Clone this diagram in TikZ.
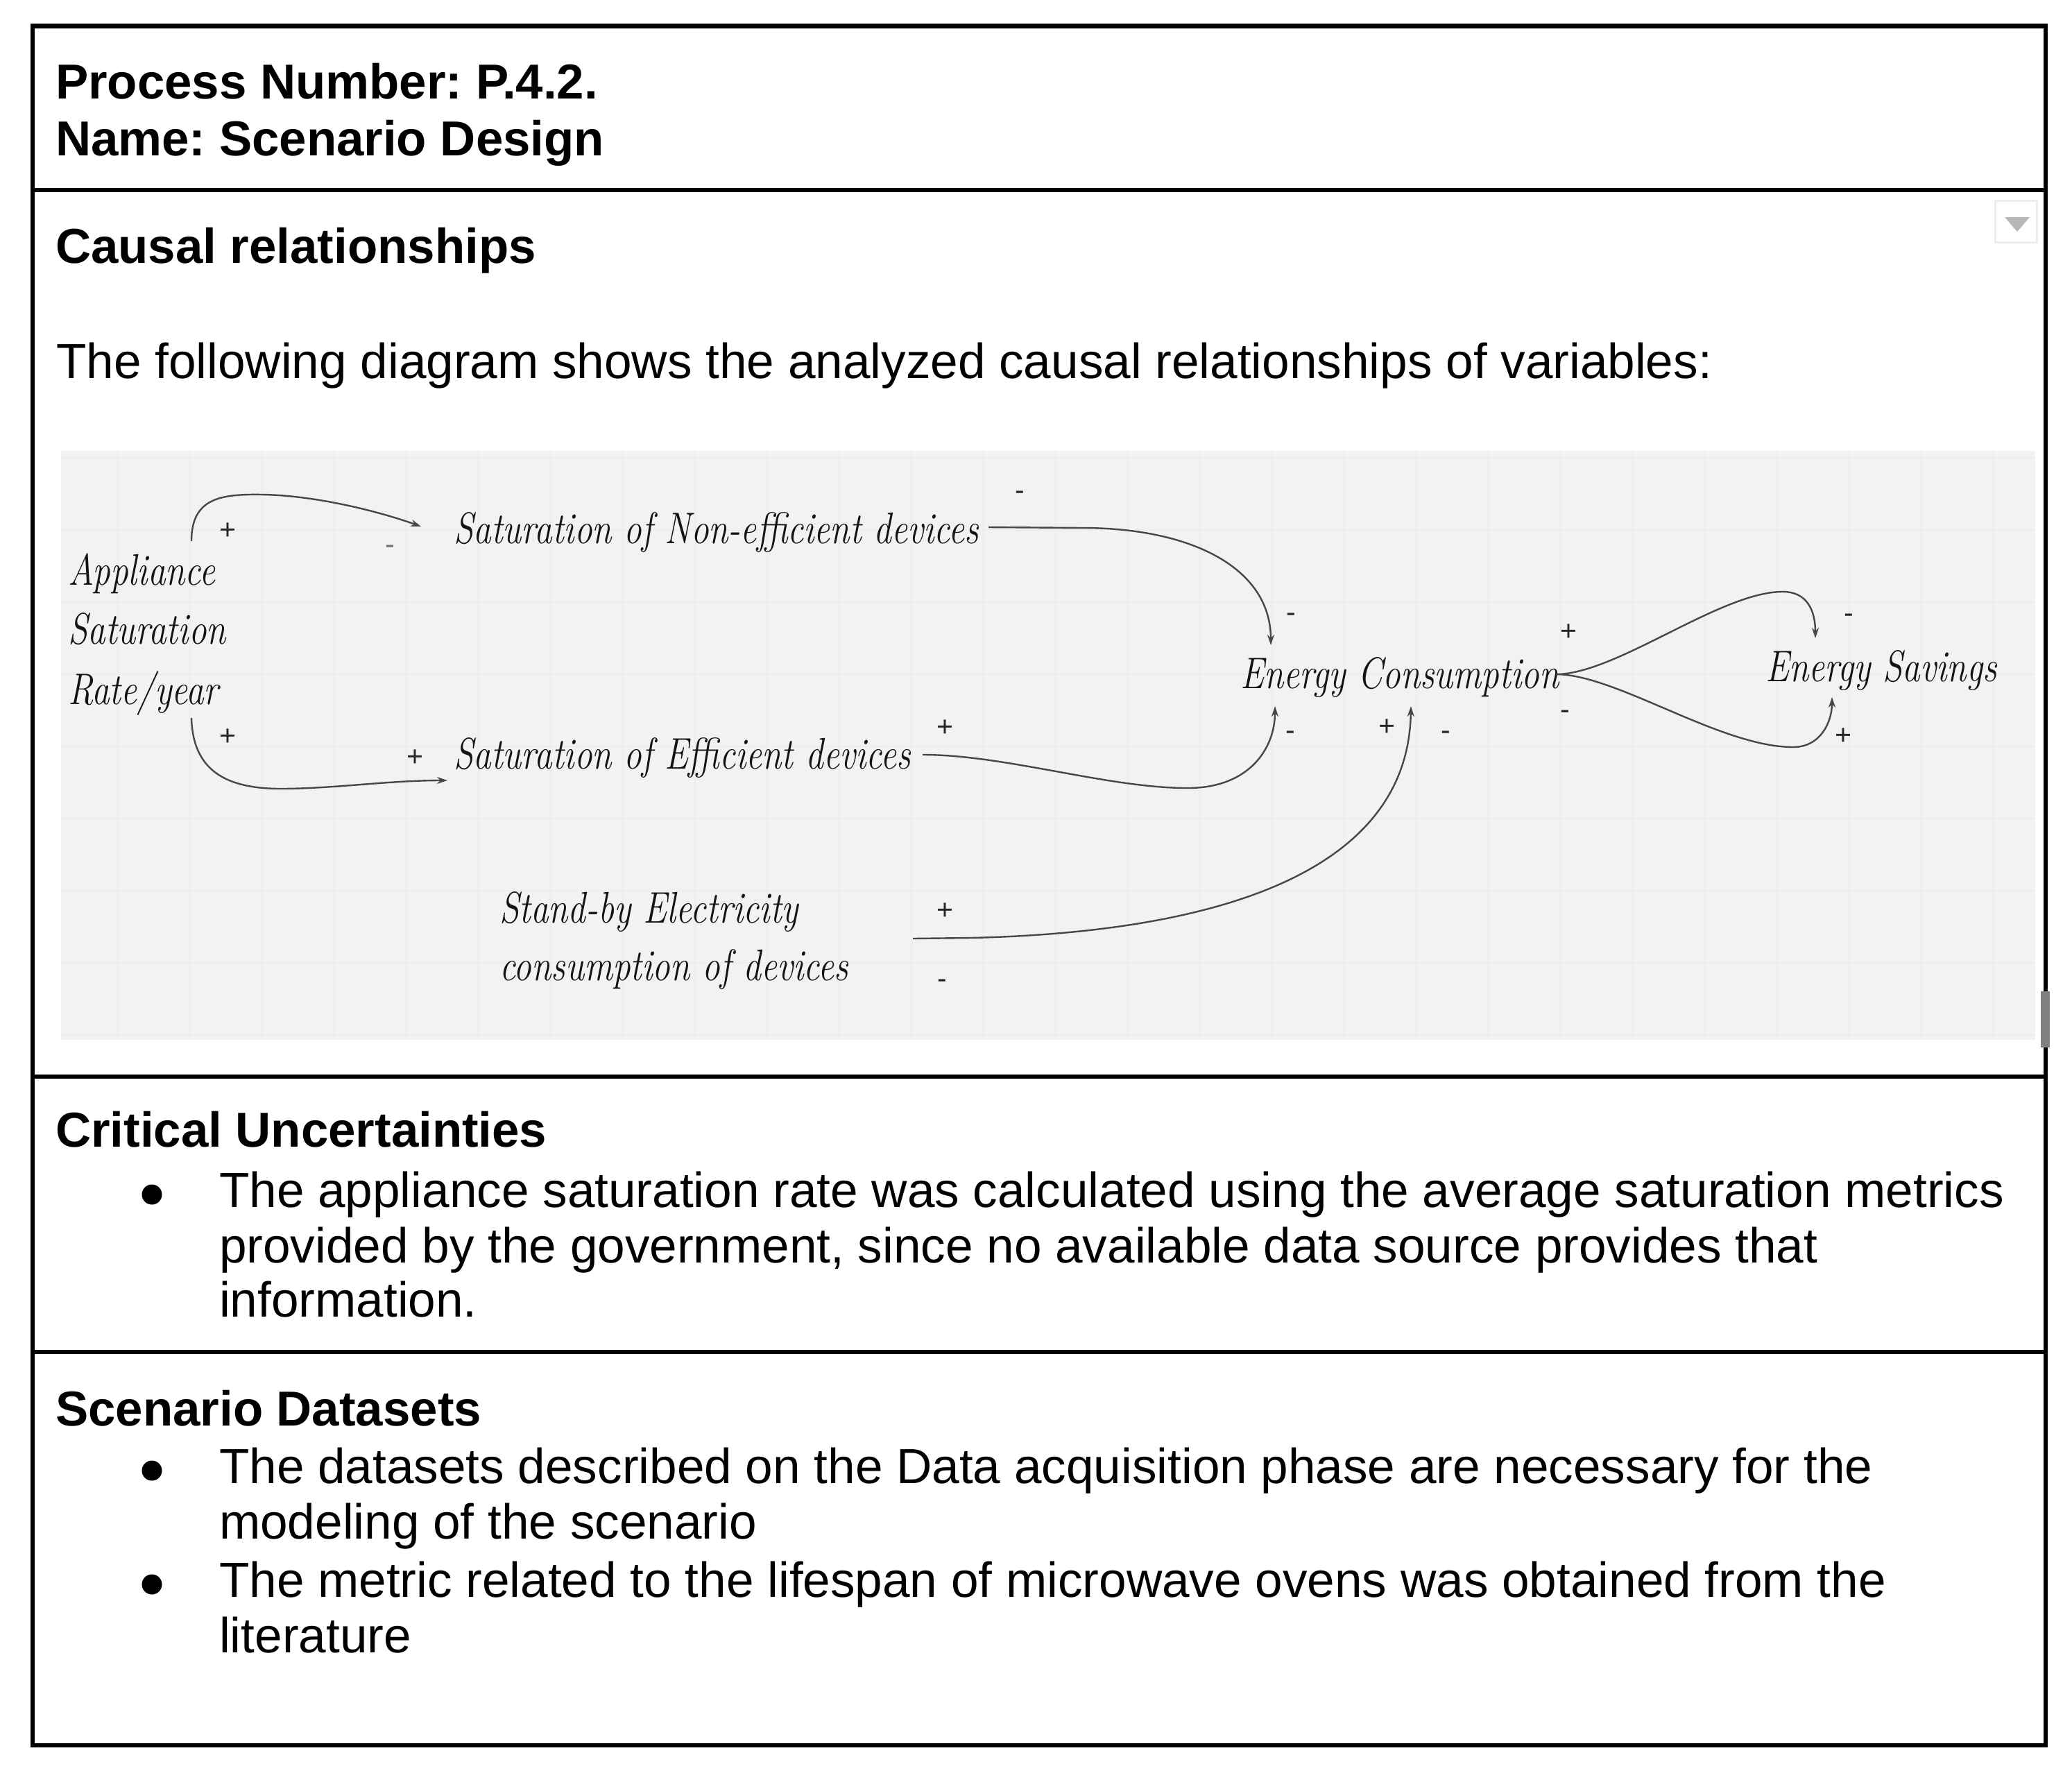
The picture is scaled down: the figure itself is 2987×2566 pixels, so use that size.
\documentclass[tikz,border=0pt]{standalone}
\usepackage{fontspec}
\usepackage{graphicx}
\setsansfont{Liberation Sans}
\usetikzlibrary{arrows.meta}
\newcommand{\hw}[1]{\scalebox{0.9}[1.12]{#1}}
\frenchspacing
\begin{document}
\begin{tikzpicture}[x=1pt,y=-1pt,
  body/.style={font=\sffamily\fontsize{71.1}{85}\selectfont, inner sep=0pt, anchor=base west},
  head/.style={font=\sffamily\bfseries\fontsize{70.8}{85}\selectfont, inner sep=0pt, anchor=base west},
  hand/.style={font=\rmfamily\itshape\fontsize{57}{60}\selectfont, inner sep=0pt, anchor=base west, text=black!92},
  sign/.style={font=\sffamily\fontsize{41}{44}\selectfont, inner sep=0pt, text=black!85},
  conn/.style={draw=black!72, line width=2.4pt, -{Stealth[length=15pt,width=10pt]}},
  gridline/.style={draw=black!7, line width=1.5pt},
  frame/.style={draw=black, line width=6.5pt},
  bullet/.style={circle, fill=black, inner sep=0pt, minimum size=29pt}
]
\useasboundingbox (0,0) rectangle (2987,2566);
\fill[white] (0,0) rectangle (2987,2566);

% ---------- diagram panel ----------
\fill[black!5] (88,650) rectangle (2934,1499);
\foreach \x in {170,274,...,2934} \draw[gridline] (\x,650) -- (\x,1499);
\foreach \y in {660,764,...,1499} \draw[gridline] (88,\y) -- (2934,\y);

% ---------- frame ----------
\draw[frame] (47,37.5) rectangle (2949,2516);
\draw[frame] (47,274) -- (2949,274);
\draw[frame] (47,1552) -- (2949,1552);
\draw[frame] (47,1949) -- (2949,1949);
\fill[black!50] (2942,1429) rectangle (2955,1510);

% dropdown icon
\draw[draw=black!7, fill=white, line width=3pt] (2876,289) rectangle (2936,349);
\fill[black!28] (2890,313) -- (2926,313) -- (2908,334) -- cycle;

% ---------- texts ----------
\node[head] (pn) at (80,143) {Process Number: P.4.2.};
\node[head] (nm) at (80,225) {Name: Scenario Design};
\node[head] (cr) at (80,379) {Causal relationships};
\node[body] (intro) at (81,545) {The following diagram shows the analyzed causal relationships of variables:};

\node[head] (cu) at (80,1653) {Critical Uncertainties};
\node[bullet] (b1) at (219,1722) {};
\node[body] (cu1) at (316,1740) {The appliance saturation rate was calculated using the average saturation metrics};
\node[body] (cu2) at (316,1820) {provided by the government, since no available data source provides that};
\node[body] (cu3) at (316,1898) {information.};

\node[head] (sd) at (80,2055) {Scenario Datasets};
\node[bullet] (b2) at (219,2120) {};
\node[body] (sd1) at (316,2138) {The datasets described on the Data acquisition phase are necessary for the};
\node[body] (sd2) at (316,2218) {modeling of the scenario};
\node[bullet] (b3) at (219,2284) {};
\node[body] (sd3) at (316,2302) {The metric related to the lifespan of microwave ovens was obtained from the};
\node[body] (sd4) at (316,2382) {literature};

% ---------- causal loop diagram ----------
\node[hand] (ap1) at (98,843) {\hw{Appliance}};
\node[hand] (ap2) at (98,928) {\hw{Saturation}};
\node[hand] (ap3) at (98,1015) {\hw{Rate/year}};
\node[hand] (ne) at (654,783) {\hw{Saturation of Non-efficient devices}};
\node[hand] (ef) at (654,1108) {\hw{Saturation of Efficient devices}};
\node[hand] (sb1) at (720,1330) {\hw{Stand-by Electricity}};
\node[hand] (sb2) at (720,1413) {\hw{consumption of devices}};
\node[hand] (ec) at (1788,992) {\hw{Energy Consumption}};
\node[hand] (es) at (2545,982) {\hw{Energy Savings}};

\coordinate (apTop) at (276,780);
\coordinate (apBot) at (276,1035);
\coordinate (neIn) at (607,759);
\coordinate (efIn) at (645,1125);
\coordinate (neOut) at (1425,760);
\coordinate (efOut) at (1330,1088);
\coordinate (sbOut) at (1316,1353);
\coordinate (ecIn1) at (1832,930);
\coordinate (ecIn2) at (1838,1018);
\coordinate (ecIn3) at (2034,1018);
\coordinate (ecOut) at (2243,972);
\coordinate (esIn1) at (2617,920);
\coordinate (esIn2) at (2641,1005);

\draw[conn] (apTop) .. controls (276,718) and (318,712) .. (378,713)
  .. controls (450,714) and (540,735) .. (neIn);
\draw[conn] (apBot) .. controls (278,1108) and (322,1137) .. (405,1137)
  .. controls (480,1137) and (560,1125) .. (efIn);
\draw[conn] (neOut) -- (1560,761) .. controls (1720,761) and (1832,820) .. (ecIn1);
\draw[conn] (efOut) .. controls (1450,1088) and (1600,1137) .. (1715,1136)
  .. controls (1800,1135) and (1838,1080) .. (ecIn2);
\draw[conn] (sbOut) -- (1400,1352) .. controls (1700,1345) and (2030,1280) .. (ecIn3);
\draw[conn] (ecOut) .. controls (2330,972) and (2480,853) .. (2570,853)
  .. controls (2605,853) and (2617,880) .. (esIn1);
\draw[conn] (ecOut) .. controls (2330,972) and (2480,1077) .. (2585,1077)
  .. controls (2625,1077) and (2641,1040) .. (esIn2);

% polarity signs
\node[sign] (p1) at (328,766) {+};
\node[sign, text=black!55] (p2) at (562,792) {-};
\node[sign] (p3) at (328,1063) {+};
\node[sign] (p4) at (598,1093) {+};
\node[sign] (p5) at (1470,714) {-};
\node[sign] (p6) at (1861,890) {-};
\node[sign] (p7) at (1362,1050) {+};
\node[sign] (p8) at (1860,1060) {-};
\node[sign] (p9) at (1362,1314) {+};
\node[sign] (p10) at (1358,1418) {-};
\node[sign] (p11) at (1999,1049) {+};
\node[sign] (p12) at (2084,1060) {-};
\node[sign] (p13) at (2261,912) {+};
\node[sign] (p14) at (2256,1030) {-};
\node[sign] (p15) at (2665,891) {-};
\node[sign] (p16) at (2657,1062) {+};
\end{tikzpicture}
\end{document}
